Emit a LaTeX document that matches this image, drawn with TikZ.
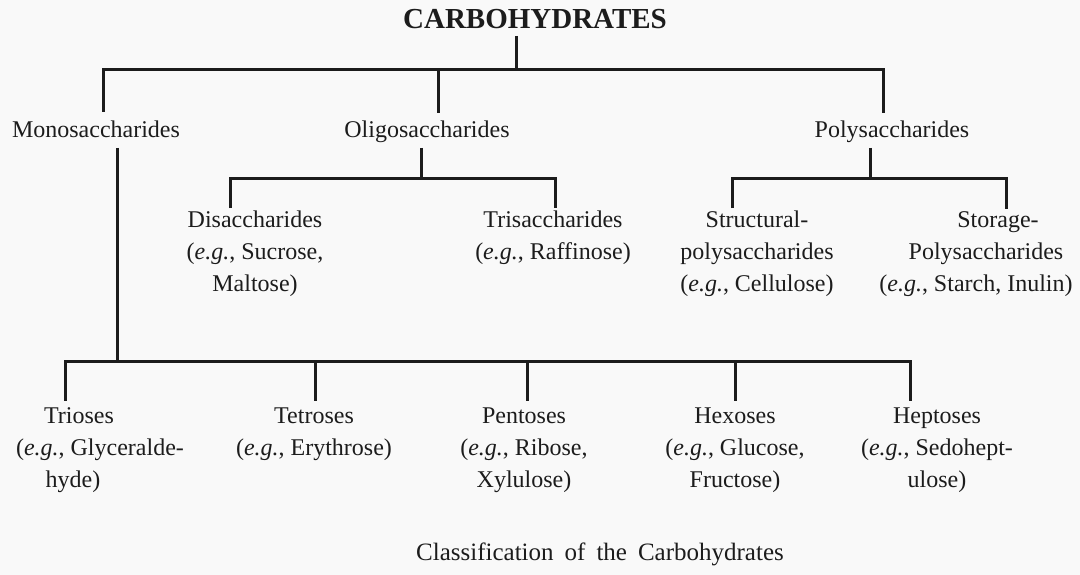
\documentclass[tikz,border=0pt]{standalone}
\usepackage{fontspec}
\setmainfont{Liberation Serif}
\definecolor{ink}{HTML}{1C1C1C}
\definecolor{paper}{HTML}{F9F9F9}
\newcommand{\widespaces}{\spaceskip=11bp plus 2bp\relax}
\begin{document}
\begin{tikzpicture}[x=1bp,y=-1bp,
  lbl/.style={anchor=base,inner sep=0pt,text=ink,font=\fontsize{24bp}{32bp}\selectfont,align=center},
  ttl/.style={anchor=base,inner sep=0pt,text=ink,font=\fontsize{29bp}{34bp}\selectfont\bfseries},
  captxt/.style={anchor=base,inner sep=0pt,text=ink,font=\fontsize{25bp}{30bp}\selectfont},
  busline/.style={draw=ink,line width=3bp}]
\fill[paper] (0,0) rectangle (1080,575);
\useasboundingbox (0,0) rectangle (1080,575);

% nodes (multi-line nodes: base = baseline of last line)
\node[ttl] (title) at (535,29) {CARBOHYDRATES};
\node[lbl] (mono) at (96,138) {Monosaccharides};
\node[lbl] (oligo) at (427,138) {Oligosaccharides};
\node[lbl] (poly) at (892,138) {Polysaccharides};

\node[lbl] (di) at (255,292) {Disaccharides\\(\textit{e.g.}, Sucrose,\\Maltose)};
\node[lbl] (tri) at (553,260) {Trisaccharides\\(\textit{e.g.}, Raffinose)};
\node[lbl] (str) at (757,292) {Structural-\\polysaccharides\\(\textit{e.g.}, Cellulose)};
\node[lbl] (sto) at (986,292) {\hspace*{24bp}Storage-\\Polysaccharides\\(\textit{e.g.}, Starch, Inulin)\hspace*{20bp}};

\node[lbl] (trio) at (100,487) {Trioses\hspace*{42bp}\\(\textit{e.g.}, Glyceralde-\\hyde)\hspace*{54bp}};
\node[lbl] (tetr) at (314,455) {Tetroses\\(\textit{e.g.}, Erythrose)};
\node[lbl] (pent) at (524,487) {Pentoses\\(\textit{e.g.}, Ribose,\\Xylulose)};
\node[lbl] (hexo) at (735,487) {Hexoses\\(\textit{e.g.}, Glucose,\\Fructose)};
\node[lbl] (hept) at (937,487) {Heptoses\\(\textit{e.g.}, Sedohept-\\ulose)};

\node[captxt] (caption) at (600,560) {\widespaces Classification of the Carbohydrates};

% junction coordinates
\coordinate (tj) at (516,70);
\coordinate (t1) at (103,70);
\coordinate (t2) at (438,70);
\coordinate (t3) at (883,70);
\coordinate (oj) at (421,179);
\coordinate (o1) at (230,179);
\coordinate (o2) at (555,179);
\coordinate (pj) at (870,179);
\coordinate (p1) at (732,179);
\coordinate (p2) at (1006,179);
\coordinate (mj) at (117,361);
\coordinate (b1) at (65,361);
\coordinate (b2) at (315,361);
\coordinate (b3) at (527,361);
\coordinate (b4) at (735,361);
\coordinate (b5) at (910,361);

% connectors
\draw[busline] ([yshift=-7bp]title.base -| tj) -- (tj);
\draw[busline] ([yshift=26bp]mono.base -| t1) -- (t1) -- (t3) -- ([yshift=25bp]poly.base -| t3);
\draw[busline] (t2) -- ([yshift=25bp]oligo.base -| t2);

\draw[busline] ([yshift=-10bp]oligo.base -| oj) -- (oj);
\draw[busline] ([yshift=3bp]di.north -| o1) -- (o1) -- (o2) -- ([yshift=3bp]tri.north -| o2);

\draw[busline] ([yshift=-10bp]poly.base -| pj) -- (pj);
\draw[busline] ([yshift=3bp]str.north -| p1) -- (p1) -- (p2) -- ([yshift=3bp]sto.north -| p2);

\draw[busline] ([yshift=-10bp]mono.base -| mj) -- (mj);
\draw[busline] ([yshift=6bp]trio.north -| b1) -- (b1) -- (b5) -- ([yshift=6bp]hept.north -| b5);
\draw[busline] (b2) -- ([yshift=6bp]tetr.north -| b2);
\draw[busline] (b3) -- ([yshift=6bp]pent.north -| b3);
\draw[busline] (b4) -- ([yshift=6bp]hexo.north -| b4);
\end{tikzpicture}
\end{document}
